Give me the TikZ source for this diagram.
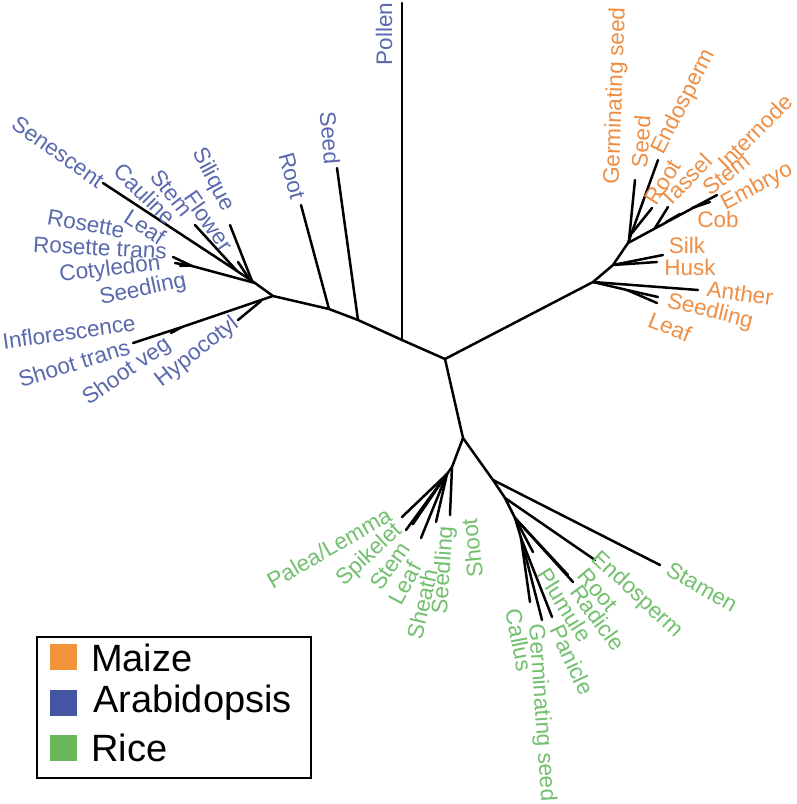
\documentclass[tikz,border=0pt]{standalone}
\usepackage{fontspec}
\setmainfont{Liberation Sans}
\definecolor{arab}{HTML}{5A69AE}
\definecolor{maize}{HTML}{EE8F45}
\definecolor{rice}{HTML}{72C06E}
\definecolor{arabsq}{HTML}{4355A3}
\definecolor{maizesq}{HTML}{F39339}
\definecolor{ricesq}{HTML}{6AB85B}
\begin{document}
\begin{tikzpicture}[x=1pt,y=-1pt,
  br/.style={line width=2.5pt, line cap=round, line join=round},
  lab/.style={font=\fontsize{22.5}{22.5}\selectfont, inner sep=0pt, anchor=center},
  al/.style={lab, text=arab},
  ml/.style={lab, text=maize},
  rl/.style={lab, text=rice},
  legtext/.style={font=\fontsize{38}{38}\selectfont, inner sep=0pt, anchor=west, text=black}]
\useasboundingbox (0,0) rectangle (797,804);
\fill[white] (0,0) rectangle (797,804);

% ---------- tree coordinates ----------
\coordinate (c0) at (445,359);
% Arabidopsis
\coordinate (p1) at (402,340);
\coordinate (pollenT) at (402,3);
\coordinate (s1) at (358,320);
\coordinate (seedT) at (337,168);
\coordinate (r1) at (329,309);
\coordinate (rootT) at (301,205);
\coordinate (a1) at (273,296);
\coordinate (a2) at (255,283);
\coordinate (senT) at (103,183);
\coordinate (stemJ) at (237,271);
\coordinate (stemT) at (195,225);
\coordinate (silJ) at (252,281);
\coordinate (silT) at (230,225);
\coordinate (flJ) at (248,277);
\coordinate (flT) at (238,262);
\coordinate (rosJ) at (192,266);
\coordinate (rosT1) at (173,257);
\coordinate (rosT2) at (175,263);
\coordinate (rosT3) at (180,266);
\coordinate (shtT) at (133,343);
\coordinate (svJ) at (182,327);
\coordinate (svT) at (171,333);
\coordinate (hypJ) at (261,301);
\coordinate (hypT) at (238,320);
% Maize
\coordinate (m1) at (593,282);
\coordinate (antT) at (698,290);
\coordinate (msdJ) at (627,290);
\coordinate (msdT) at (658,297);
\coordinate (mlfT) at (657,303);
\coordinate (m2) at (613,265);
\coordinate (silkT) at (663,255);
\coordinate (huskT) at (657,262);
\coordinate (m3) at (628,243);
\coordinate (endoT) at (658,160);
\coordinate (germJ) at (629,240);
\coordinate (germT) at (635,180);
\coordinate (mrootJ) at (632,233);
\coordinate (mrootT) at (652,208);
\coordinate (embT) at (717,195);
\coordinate (tasJ) at (655,228);
\coordinate (tasT) at (668,207);
\coordinate (mstemJ) at (692,208);
\coordinate (mstemT) at (710,202);
\coordinate (cobJ) at (666,222);
\coordinate (cobT) at (680,214);
% Rice
\coordinate (q1) at (463,438);
\coordinate (q2) at (452,467);
\coordinate (q2b) at (447,474);
\coordinate (paleaT) at (402,517);
\coordinate (spikT) at (406,530);
\coordinate (rstemT) at (413,524);
\coordinate (rleafT) at (421,538);
\coordinate (rsdT) at (436,522);
\coordinate (shootT) at (450,515);
\coordinate (q3) at (493,480);
\coordinate (stamT) at (660,565);
\coordinate (q4) at (505,498);
\coordinate (rendoT) at (595,560);
\coordinate (q5) at (515,518);
\coordinate (rrootT) at (573,582);
\coordinate (radT) at (568,575);
\coordinate (plumT) at (533,552);
\coordinate (q6) at (521,538);
\coordinate (panT) at (552,617);
\coordinate (rgermT) at (542,620);
\coordinate (callT) at (530,602);

% ---------- branches ----------
\draw[br] (c0) -- (p1) -- (s1) -- (r1) -- (a1) -- (a2) -- (stemJ) -- (senT);
\draw[br] (p1) -- (pollenT);
\draw[br] (s1) -- (seedT);
\draw[br] (r1) -- (rootT);
\draw[br] (stemJ) -- (stemT);
\draw[br] (silJ) -- (silT);
\draw[br] (flJ) -- (flT);
\draw[br] (a2) -- (rosJ) -- (rosT1);
\draw[br] (rosJ) -- (rosT2);
\draw[br] (rosJ) -- (rosT3);
\draw[br] (a1) -- (svJ) -- (shtT);
\draw[br] (svJ) -- (svT);
\draw[br] (hypJ) -- (hypT);

\draw[br] (c0) -- (m1) -- (antT);
\draw[br] (m1) -- (msdJ) -- (msdT);
\draw[br] (msdJ) -- (mlfT);
\draw[br] (m1) -- (m2) -- (silkT);
\draw[br] (m2) -- (huskT);
\draw[br] (m2) -- (m3) -- (endoT);
\draw[br] (germJ) -- (germT);
\draw[br] (mrootJ) -- (mrootT);
\draw[br] (m3) -- (embT);
\draw[br] (tasJ) -- (tasT);
\draw[br] (mstemJ) -- (mstemT);
\draw[br] (cobJ) -- (cobT);

\draw[br] (c0) -- (q1) -- (q2) -- (q2b) -- (paleaT);
\draw[br] (q2b) -- (spikT);
\draw[br] (q2b) -- (rstemT);
\draw[br] (q2b) -- (rleafT);
\draw[br] (q2b) -- (rsdT);
\draw[br] (q2) -- (shootT);
\draw[br] (q1) -- (q3) -- (stamT);
\draw[br] (q3) -- (q4) -- (rendoT);
\draw[br] (q4) -- (q5) -- (rrootT);
\draw[br] (q5) -- (radT);
\draw[br] (q5) -- (plumT);
\draw[br] (q5) -- (q6) -- (panT);
\draw[br] (q6) -- (rgermT);
\draw[br] (q6) -- (callT);

% ---------- Arabidopsis labels ----------
\node[al, rotate=90]  (lPollen) at (384,34) {Pollen};
\node[al, rotate=-85] (lSeed) at (330,138) {Seed};
\node[al, rotate=-75] (lRoot) at (292,176) {Root};
\node[al, rotate=-35] (lSen) at (58,152) {Senescent};
\node[al, rotate=-45] (lCaul) at (145,194) {Cauline};
\node[al, rotate=-52] (lStem) at (172,193) {Stem};
\node[al, rotate=-62] (lSil) at (213,180) {Silique};
\node[al, rotate=-55] (lFlow) at (209,221) {Flower};
\node[al, rotate=-33] (lLeaf) at (145,227) {Leaf};
\node[al, rotate=-10] (lRos) at (86,224) {Rosette};
\node[al, rotate=-3]  (lRost) at (100,248) {Rosette trans};
\node[al, rotate=7]   (lCot) at (110,270) {Cotyledon};
\node[al, rotate=12]  (lSdl) at (143,290) {Seedling};
\node[al, rotate=8]   (lInf) at (69,332) {Inflorescence};
\node[al, rotate=17]  (lSht) at (74,363) {Shoot trans};
\node[al, rotate=35]  (lSv) at (127,372) {Shoot veg};
\node[al, rotate=38]  (lHyp) at (197,352) {Hypocotyl};

% ---------- Maize labels ----------
\node[ml, rotate=88] (mGerm) at (616,96) {Germinating seed};
\node[ml, rotate=86] (mSeed) at (641,142) {Seed};
\node[ml, rotate=63] (mEndo) at (684,102) {Endosperm};
\node[ml, rotate=58] (mRoot) at (663,182) {Root};
\node[ml, rotate=46] (mTas) at (686,180) {Tassel};
\node[ml, rotate=45] (mInt) at (755,132) {Internode};
\node[ml, rotate=38] (mStem) at (726,174) {Stem};
\node[ml, rotate=28] (mEmb) at (757,187) {Embryo};
\node[ml] (mCob) at (718,219) {Cob};
\node[ml] (mSilk) at (687,245) {Silk};
\node[ml] (mHusk) at (690,267) {Husk};
\node[ml, rotate=-8]  (mAnt) at (740,293) {Anther};
\node[ml, rotate=-14] (mSdl) at (710,312) {Seedling};
\node[ml, rotate=-22] (mLeaf) at (670,327) {Leaf};

% ---------- Rice labels ----------
\node[rl, rotate=30] (rPal) at (329,548) {Palea/Lemma};
\node[rl, rotate=43] (rSpk) at (370,555) {Spikelet};
\node[rl, rotate=55] (rStem) at (390,566) {Stem};
\node[rl, rotate=62] (rLeaf) at (405,583) {Leaf};
\node[rl, rotate=77] (rShe) at (422,604) {Sheath};
\node[rl, rotate=86] (rSdl) at (444,570) {Seedling};
\node[rl, rotate=96] (rSht) at (472,548) {Shoot};
\node[rl, rotate=-30] (rStam) at (702,587) {Stamen};
\node[rl, rotate=-43] (rEndo) at (637,595) {Endosperm};
\node[rl, rotate=-50] (rRoot) at (598,590) {Root};
\node[rl, rotate=-54] (rRad) at (598,618) {Radicle};
\node[rl, rotate=-58] (rPlu) at (565,605) {Plumule};
\node[rl, rotate=-65] (rPan) at (572,660) {Panicle};
\node[rl, rotate=-86] (rGerm) at (541,713) {Germinating seed};
\node[rl, rotate=-79] (rCal) at (519,640) {Callus};

% ---------- legend ----------
\draw[line width=1.8pt] (37,637) rectangle (311,778);
\fill[maizesq] (50,644) rectangle (77,670);
\fill[arabsq] (50,690) rectangle (77,716);
\fill[ricesq] (50,735) rectangle (77,761);
\node[legtext] (legM) at (91,658) {Maize};
\node[legtext] (legA) at (93,703) {Arabidopsis};
\node[legtext] (legR) at (91,748) {Rice};
\end{tikzpicture}
\end{document}
